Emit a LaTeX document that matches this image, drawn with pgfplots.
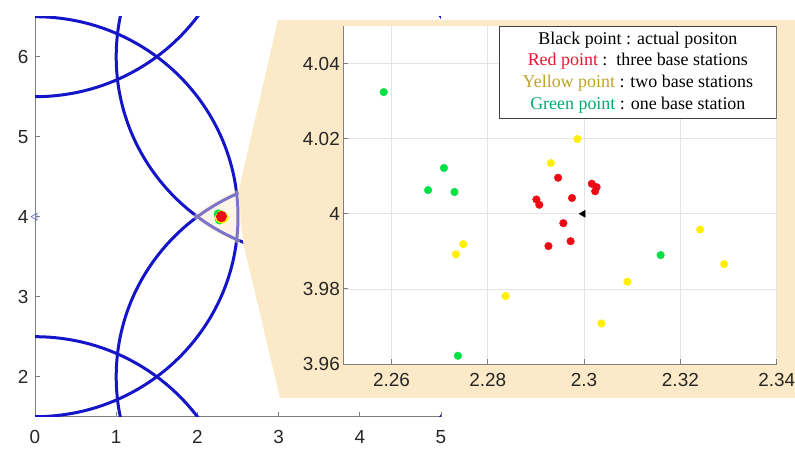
\documentclass[border=0pt]{standalone}
\usepackage{pgfplots}
\usepackage{pgfplotstable}
\pgfplotsset{compat=1.18}
\usepackage{fontspec}
\setmainfont{Liberation Sans}
\newfontfamily\legfont{Liberation Serif}
\definecolor{tanc}{RGB}{252,233,200}
\definecolor{cblue}{RGB}{20,20,200}
\definecolor{cgreen}{RGB}{0,225,70}
\definecolor{cyellow}{RGB}{255,240,0}
\definecolor{cred}{RGB}{238,10,20}
\definecolor{axgray}{RGB}{128,128,128}
\definecolor{lblgray}{RGB}{38,38,38}
\definecolor{gridc}{RGB}{228,228,228}
\definecolor{tgold}{RGB}{190,165,40}
\definecolor{tgreen}{RGB}{0,170,110}
\definecolor{tred}{RGB}{235,20,45}
\definecolor{stmark}{RGB}{110,110,215}

\pgfplotstableread{
x y
2.2584 4.0324
2.2709 4.0122
2.2676 4.0063
2.2731 4.0058
2.2738 3.9622
2.3159 3.9890
}\greendata
\pgfplotstableread{
x y
2.2986 4.0199
2.2931 4.0135
2.2749 3.9919
2.2734 3.9892
2.2837 3.9781
2.3036 3.9708
2.3090 3.9819
2.3241 3.9958
2.3291 3.9866
}\yellowdata
\pgfplotstableread{
x y
2.2946 4.0096
2.3016 4.0080
2.3026 4.0071
2.3023 4.0060
2.2975 4.0042
2.2901 4.0038
2.2907 4.0024
2.2957 3.9975
2.2972 3.9927
2.2926 3.9914
}\reddata
\pgfplotstableread{
x y
2.2998 4.0000
}\blackdata
\pgfplotstableread{
x y
0 4
}\stationdata

\pgfplotsset{common/.style={
  scale only axis,
  font=\fontsize{19}{22}\selectfont,
  tick label style={color=lblgray},
  /pgf/number format/assume math mode=true,
  axis line style={axgray, line width=0.8bp},
  tick style={axgray, line width=0.8bp},
  tick align=inside,
  major tick length=5bp,
  axis x line*=bottom,
  axis y line*=left,
}}

\begin{document}
\begin{tikzpicture}
\path[use as bounding box] (0bp,0bp) rectangle (795bp,450bp);

\begin{axis}[common,
  at={(35bp,33.3bp)}, anchor=south west,
  width=406bp, height=400bp,
  xmin=0, xmax=5, ymin=1.5, ymax=6.5,
  xtick={0,1,2,3,4,5}, ytick={2,3,4,5,6},
  xticklabel style={yshift=-10bp},
  yticklabel style={xshift=-3bp},
]
\draw[cblue, line width=3bp] (axis cs:0,0) circle [radius=2.5];
\draw[cblue, line width=3bp] (axis cs:0,4) circle [radius=2.5];
\draw[cblue, line width=3bp] (axis cs:0,8) circle [radius=2.5];
\draw[cblue, line width=3bp] (axis cs:3.5,2) circle [radius=2.5];
\draw[cblue, line width=3bp] (axis cs:3.5,6) circle [radius=2.5];
\draw[cblue, line width=3bp] (axis cs:7,0) circle [radius=2.5];
\draw[cblue, line width=3bp] (axis cs:7,4) circle [radius=2.5];
\draw[cblue, line width=3bp] (axis cs:7,8) circle [radius=2.5];
\begin{scope}
\clip (axis cs:0,4) circle [radius=2.54];
\clip (axis cs:3.5,6) circle [radius=2.54];
\fill[tanc, opacity=0.45] (axis cs:3.5,2) circle [radius=2.54];
\end{scope}
\addplot[only marks, mark=*, mark size=4.5bp, color=cgreen, mark options={draw=cgreen, fill=cgreen}] table {\greendata};
\addplot[only marks, mark=*, mark size=4.5bp, color=cyellow, mark options={draw=cyellow, fill=cyellow}] table {\yellowdata};
\addplot[only marks, mark=*, mark size=4.5bp, color=cred, mark options={draw=cred, fill=cred}] table {\reddata};
\addplot[only marks, mark=triangle, mark size=4bp, color=stmark, mark options={rotate=90, line width=0.7bp}] table {\stationdata};
\end{axis}

\fill[tanc] (238.5bp,258.3bp) -- (278bp,430bp) -- (795bp,430bp) -- (795bp,52bp) -- (280bp,52bp) -- (243.3bp,206.7bp) -- cycle;

\begin{axis}[common,
  at={(343.3bp,86bp)}, anchor=south west,
  width=433.4bp, height=338bp,
  xmin=2.25, xmax=2.34, ymin=3.96, ymax=4.05,
  xtick={2.26,2.28,2.3,2.32,2.34},
  ytick={3.96,3.98,4,4.02,4.04},
  grid=major, grid style={gridc, line width=0.6bp},
  axis background/.style={fill=white},
  xticklabel style={yshift=-6bp},
]
\addplot[only marks, mark=*, mark size=3.8bp, color=cgreen, mark options={draw=cgreen, fill=cgreen}] table {\greendata};
\addplot[only marks, mark=*, mark size=3.8bp, color=cyellow, mark options={draw=cyellow, fill=cyellow}] table {\yellowdata};
\addplot[only marks, mark=*, mark size=3.8bp, color=cred, mark options={draw=cred, fill=cred}] table {\reddata};
\addplot[only marks, mark=triangle*, mark size=4bp, color=black, mark options={rotate=90}] table {\blackdata};
\node[anchor=north east, draw=black!75, line width=0.7bp, fill=white,
  inner xsep=3bp, inner ysep=3bp, minimum width=277bp, minimum height=92bp,
  align=center, font=\legfont\fontsize{18}{21.7}\selectfont]
  at (rel axis cs:1,1)
  {Black point : actual positon\\
   \textcolor{tred}{Red point} :~~three base stations\\
   \textcolor{tgold}{Yellow point} : two base stations\\
   \textcolor{tgreen}{Green point} : one base station};
\end{axis}
\end{tikzpicture}
\end{document}
